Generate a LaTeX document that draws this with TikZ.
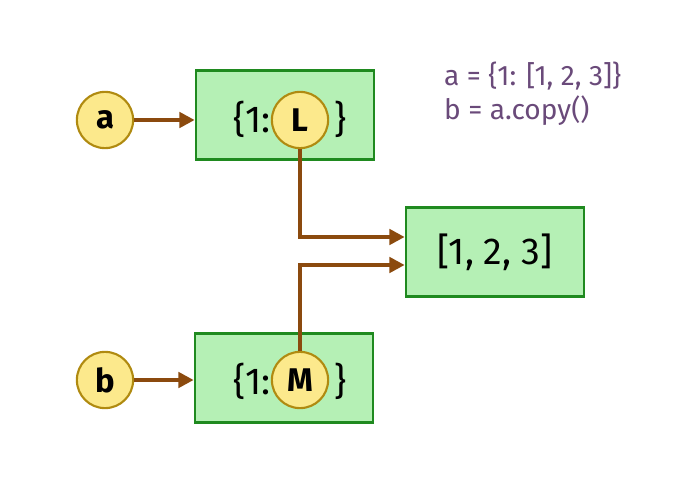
\documentclass[tikz,border=0pt]{standalone}
\usepackage{fontspec}
\setmainfont{Fira Sans}
\usetikzlibrary{arrows.meta}
\definecolor{boxfill}{HTML}{B5F0B5}
\definecolor{boxline}{HTML}{1F8A1F}
\definecolor{refill}{HTML}{FCE98C}
\definecolor{reline}{HTML}{B08A10}
\definecolor{arrowc}{HTML}{8B4A0E}
\definecolor{codec}{HTML}{6A4A7A}
\tikzset{
	dictbox/.style={draw=boxline, fill=boxfill, line width=2.2pt, minimum width=152pt, minimum height=76pt, font=\fontsize{32}{36}\selectfont},
	refc/.style={circle, draw=reline, fill=refill, line width=1.8pt, minimum size=48pt, inner sep=0pt, font=\bfseries\fontsize{28}{32}\selectfont},
	link/.style={draw=arrowc, line width=3.4pt, -{Triangle[length=13pt,width=13pt]}}
}
\begin{document}
\begin{tikzpicture}[x=0.03cm, y=-0.03cm]
	\fill[white] (0,0) rectangle (676,486);
	\useasboundingbox (0,0) rectangle (676,486);
	
	% dict boxes
	\node[dictbox] (dA) at (285,115) {};
	\node[dictbox] (dB) at (284,378) {};
	\node[dictbox] (lst) at (495,252) {[1, 2, 3]};
	
	\node[font=\fontsize{32}{36}\selectfont, anchor=east, inner sep=0pt] at (271,119) {\{1:};
	\node[font=\fontsize{32}{36}\selectfont, anchor=west, inner sep=0pt] at (334,119) {\}};
	\node[font=\fontsize{32}{36}\selectfont, anchor=east, inner sep=0pt] at (271,381) {\{1:};
	\node[font=\fontsize{32}{36}\selectfont, anchor=west, inner sep=0pt] at (334,381) {\}};
	
	% references
	\node[refc] (a) at (105,120) {a};
	\node[refc] (b) at (105,380) {b};
	\node[refc] (L) at (300,120) {L};
	\node[refc] (M) at (300,380) {M};
	
	\coordinate (tL) at (lst.west |- 0,237);
	\coordinate (tM) at (lst.west |- 0,265);
	
	\draw[link] (a) -- (dA.west |- a);
	\draw[link] (b) -- (dB.west |- b);
	\draw[link] (L.south) |- (tL);
	\draw[link] (M.north) |- (tM);
	
	% code
	\node[anchor=west, text=codec, font=\fontsize{24}{28}\selectfont] at (440,76) {a = \{1: [1, 2, 3]\}};
	\node[anchor=west, text=codec, font=\fontsize{24}{28}\selectfont] at (440,111) {b = a.copy()};
\end{tikzpicture}
\end{document}
